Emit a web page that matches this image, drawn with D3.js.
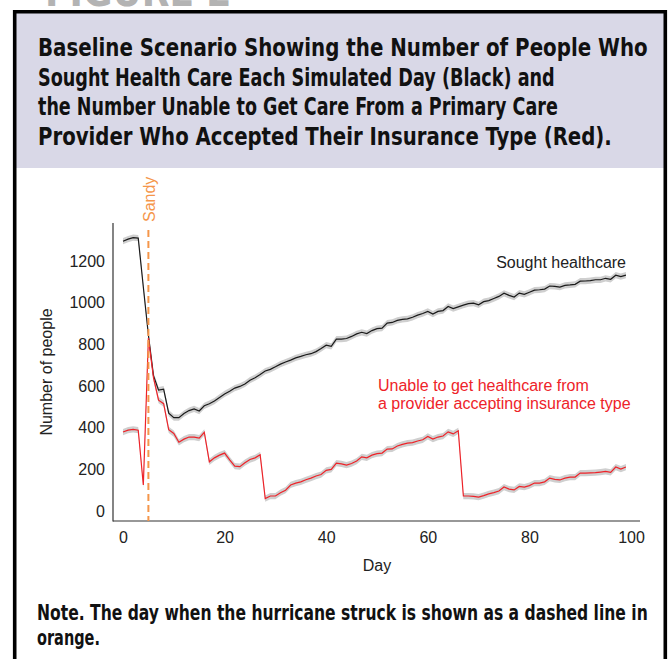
<!DOCTYPE html>
<html>
<head>
    <meta charset="utf-8">
    <title>Figure 2 - Baseline Scenario</title>
    <script src="https://d3js.org/d3.v7.min.js"></script>
    <style>
        body {
            margin: 0;
            padding: 0;
            background-color: #ffffff;
            font-family: "Liberation Sans", Arial, Helvetica, sans-serif;
        }
        .cond {
            font-family: "Liberation Sans Narrow", "DejaVu Sans Condensed", "Liberation Sans", sans-serif;
            font-weight: bold;
            font-stretch: condensed;
        }
        .tick text {
            font-size: 16px;
            fill: #222;
        }
    </style>
</head>
<body>
    <div id="chart"></div>

    <script>
        // Data (days 0..99)
        const days = d3.range(0, 100);

        const sought = [
            1295, 1305, 1312, 1310, 1075, 845, 650, 580, 585, 470,
            448, 448, 468, 482, 490, 480, 505, 515, 528, 545,
            562, 575, 590, 598, 610, 628, 640, 655, 672, 680,
            692, 705, 715, 724, 735, 742, 750, 755, 765, 780,
            796, 790, 825, 825, 828, 838, 850, 858, 852, 866,
            875, 878, 902, 905, 915, 920, 922, 930, 940, 948,
            958, 945, 958, 962, 982, 972, 980, 988, 995, 998,
            990, 1005, 1010, 1020, 1030, 1045, 1035, 1027, 1046, 1040,
            1050, 1060, 1062, 1065, 1080, 1078, 1075, 1083, 1085, 1088,
            1103, 1104, 1106, 1110, 1110, 1117, 1112, 1132, 1125, 1132
        ];

        const unable = [
            379, 388, 392, 388, 125, 830, 640, 532, 515, 390,
            372, 330, 345, 355, 355, 350, 378, 236, 255, 268,
            278, 245, 215, 213, 232, 247, 255, 270, 60, 72,
            72, 88, 100, 125, 134, 140, 150, 158, 168, 175,
            195, 200, 230, 226, 220, 228, 240, 260, 255, 268,
            275, 278, 297, 298, 312, 320, 326, 328, 336, 342,
            358, 345, 355, 360, 380, 370, 385, 72, 72, 70,
            67, 74, 82, 88, 96, 115, 105, 101, 118, 115,
            122, 134, 134, 140, 158, 152, 149, 158, 163, 163,
            182, 182, 183, 184, 187, 190, 185, 211, 201, 211
        ];

        const xTicks = [0, 20, 40, 60, 80, 100];
        const yTicks = [0, 200, 400, 600, 800, 1000, 1200];
        const sandyDay = 5;

        const titleLines = [
            "Baseline Scenario Showing the Number of People Who",
            "Sought Health Care Each Simulated Day (Black) and",
            "the Number Unable to Get Care From a Primary Care",
            "Provider Who Accepted Their Insurance Type (Red)."
        ];
        const titleWidths = [610, 517, 520, 574];
        const noteLines = [
            "Note. The day when the hurricane struck is shown as a dashed line in",
            "orange."
        ];
        const noteWidths = [611, 63];

        const W = 671, H = 659;
        const bandHalf = 15; // half width of the grey ribbon

        const svg = d3.select("#chart")
            .append("svg")
            .attr("width", W)
            .attr("height", H);

        // Frame + header
        svg.append("rect")
            .attr("x", 15).attr("y", 12)
            .attr("width", 650).attr("height", 156)
            .attr("fill", "#d9d8e7");

        svg.append("text")
            .attr("class", "cond")
            .attr("x", 45).attr("y", 6)
            .style("font-size", "40px")
            .style("fill", "#b3b3b3")
            .text("FIGURE 2");

        svg.append("path")
            .attr("d", `M14.7,${H + 5} V11.7 H665.3 V${H + 5}`)
            .attr("fill", "none")
            .attr("stroke", "#000")
            .attr("stroke-width", 3.6);

        // condensed bold text: squeeze each line horizontally to its measured width
        function condensedBlock(lines, widths, x0, y0, step, size) {
            const rows = svg.append("g").selectAll("g")
                .data(lines)
                .join("g");
            rows.append("text")
                .attr("class", "cond")
                .style("font-size", size + "px")
                .style("fill", "#111")
                .text(d => d);
            rows.attr("transform", function (d, i) {
                const w = d3.select(this).select("text").node().getComputedTextLength();
                const sx = Math.min(1, widths[i] / w);
                return `translate(${x0},${y0 + i * step}) scale(${sx},1)`;
            });
        }

        condensedBlock(titleLines, titleWidths, 38, 56, 29.7, 25.5);
        condensedBlock(noteLines, noteWidths, 37, 620, 25, 21);

        // Scales
        const x = d3.scaleLinear().domain([0, 100]).range([123, 631]);
        const y = d3.scaleLinear().domain([0, 1200]).range([511, 261]);

        const plot = svg.append("g");

        // Axes (R base style: lines, no tick marks)
        const xAxis = plot.append("g")
            .attr("transform", "translate(0,521)")
            .call(d3.axisBottom(x).tickValues(xTicks).tickSize(0).tickPadding(11));
        xAxis.select(".domain").remove();
        xAxis.append("line")
            .attr("x1", 113).attr("x2", 640)
            .attr("stroke", "#333").attr("stroke-width", 1.2);

        const yAxis = plot.append("g")
            .attr("transform", "translate(113,0)")
            .call(d3.axisLeft(y).tickValues(yTicks).tickFormat(d3.format("d")).tickSize(0).tickPadding(8));
        yAxis.select(".domain").remove();
        yAxis.append("line")
            .attr("y1", 223).attr("y2", 521.6)
            .attr("stroke", "#333").attr("stroke-width", 1.2);
        plot.selectAll(".tick text").style("font-family", "'Liberation Sans', Arial, sans-serif");

        // Axis titles
        plot.append("text")
            .attr("x", 377).attr("y", 571)
            .attr("text-anchor", "middle")
            .style("font-size", "16px")
            .style("fill", "#222")
            .text("Day");

        plot.append("text")
            .attr("transform", "translate(52,372) rotate(-90)")
            .attr("text-anchor", "middle")
            .style("font-size", "16px")
            .style("fill", "#222")
            .text("Number of people");

        // Ribbons and lines
        const series = [
            { values: sought, color: "#1a1a1a" },
            { values: unable, color: "#ee2329" }
        ];

        const band = d3.area()
            .x((d, i) => x(days[i]))
            .y0(d => y(d - bandHalf))
            .y1(d => y(d + bandHalf));

        const line = d3.line()
            .x((d, i) => x(days[i]))
            .y(d => y(d));

        series.forEach(s => {
            plot.append("path")
                .attr("d", band(s.values))
                .attr("fill", "#cfcfcf");
        });
        series.forEach(s => {
            plot.append("path")
                .attr("d", line(s.values))
                .attr("fill", "none")
                .attr("stroke", s.color)
                .attr("stroke-width", 1.2);
        });

        // Sandy marker
        plot.append("line")
            .attr("x1", x(sandyDay)).attr("x2", x(sandyDay))
            .attr("y1", 230).attr("y2", 521)
            .attr("stroke", "#f5964a")
            .attr("stroke-width", 2)
            .attr("stroke-dasharray", "7,4");

        plot.append("text")
            .attr("transform", `translate(${x(sandyDay) + 7},222) rotate(-90)`)
            .style("font-size", "16px")
            .style("fill", "#f5964a")
            .text("Sandy");

        // Direct labels
        plot.append("text")
            .attr("x", 626).attr("y", 268)
            .attr("text-anchor", "end")
            .style("font-size", "16px")
            .style("fill", "#222")
            .text("Sought healthcare");

        plot.append("g").selectAll("text")
            .data(["Unable to get healthcare from", "a provider accepting insurance type"])
            .join("text")
            .attr("x", 378)
            .attr("y", (d, i) => 391 + i * 18)
            .style("font-size", "16px")
            .style("fill", "#ee2329")
            .text(d => d);
    </script>
</body>
</html>
